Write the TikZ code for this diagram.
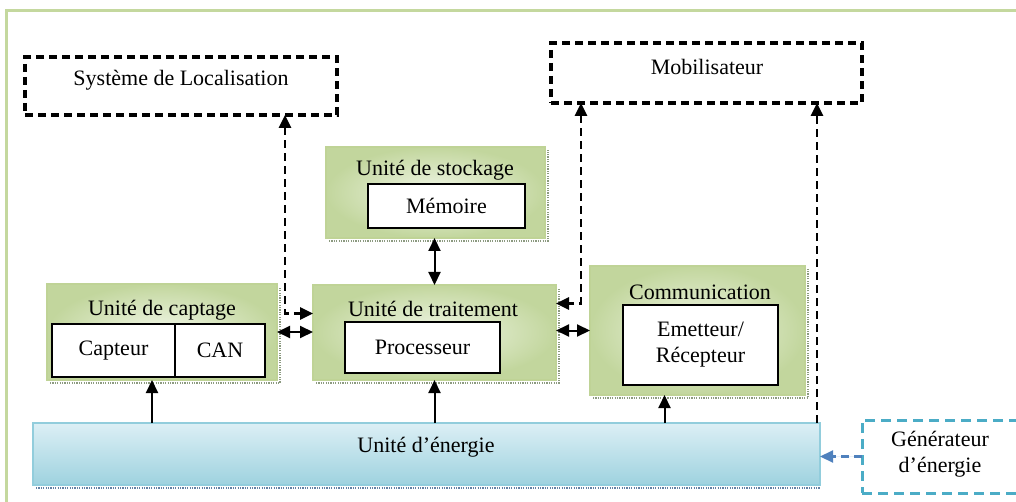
\documentclass[tikz,border=0pt]{standalone}
\usepackage{fontspec}
\setmainfont{Liberation Serif}
\usetikzlibrary{arrows.meta,calc}
\definecolor{gEdge}{HTML}{BFD396}
\definecolor{gLight}{HTML}{F0F6E6}
\definecolor{gMid}{HTML}{C2D69D}
\definecolor{frameG}{HTML}{C4D89E}
\definecolor{bTop}{HTML}{DCEFF5}
\definecolor{bBot}{HTML}{9ED2DF}
\definecolor{bEdge}{HTML}{92CDDC}
\definecolor{cyanD}{HTML}{4BACC6}
\definecolor{blueA}{HTML}{4F81BD}
\definecolor{shadC}{HTML}{8C9A80}
\begin{document}
\begin{tikzpicture}[x=1pt,y=-1pt,
  every node/.style={font=\fontsize{22}{26}\selectfont, inner sep=0pt, outer sep=0pt},
  gbox/.style={draw=gEdge, line width=1.8pt, inner color=gLight, outer color=gMid},
  ibox/.style={draw=black, line width=2.8pt, fill=white},
  dbox/.style={draw=black, line width=3.2pt, dash pattern=on 8pt off 5pt},
  ebox/.style={draw=bEdge, line width=1.8pt, top color=bTop, bottom color=bBot},
  gen/.style={draw=cyanD, line width=3pt, dash pattern=on 10pt off 6pt},
  shad/.style={draw=shadC, line width=2pt, dash pattern=on 1.2pt off 1.2pt},
  arr/.style={line width=2pt, -{Triangle[length=13pt,width=12pt]}},
  darr/.style={line width=2pt, {Triangle[length=13pt,width=12pt]}-{Triangle[length=13pt,width=12pt]}},
  dsh/.style={line width=2.8pt, dash pattern=on 8pt off 5pt, {Triangle[length=13pt,width=12pt]}-{Triangle[length=13pt,width=12pt]}},
  dsh1/.style={line width=2.8pt, dash pattern=on 8pt off 5pt, -{Triangle[length=13pt,width=12pt]}}
]
\useasboundingbox (0,0) rectangle (1016,502);
% outer frame
\draw[frameG, line width=3pt] (6,502) -- (6,11) -- (1016,11);

% dashed external boxes
\node[dbox, minimum width=312, minimum height=58] (loc) at (181,86) {};
\node (locT) at (181,80) {Système de Localisation};
\node[dbox, minimum width=311, minimum height=60] (mob) at (706.5,73) {};
\node (mobT) at (707,67) {Mobilisateur};

% storage unit
\node[gbox, minimum width=219, minimum height=91] (st) at (435.5,192.5) {};
\draw[shad] ([xshift=3pt,yshift=-3pt]st.south west) -- ([xshift=3pt,yshift=-3pt]st.south east) -- ([xshift=3pt,yshift=-3pt]st.north east);
\node (stT) at (435,170) {Unité de stockage};
\node[ibox, minimum width=157, minimum height=44] (mem) at (446.5,206) {Mémoire};

% captage unit
\node[gbox, minimum width=230, minimum height=96] (cap) at (162,332) {};
\draw[shad] ([xshift=3pt,yshift=-3pt]cap.south west) -- ([xshift=3pt,yshift=-3pt]cap.south east) -- ([xshift=3pt,yshift=-3pt]cap.north east);
\node (capT) at (162,310) {Unité de captage};
\node[ibox, minimum width=123, minimum height=53] (capt) at (113.5,350.5) {Capteur};
\node[ibox, minimum width=90, minimum height=53] (can) at (220,350.5) {CAN};

% traitement unit
\node[gbox, minimum width=243, minimum height=95] (tr) at (434.5,332.5) {};
\draw[shad] ([xshift=3pt,yshift=-3pt]tr.south west) -- ([xshift=3pt,yshift=-3pt]tr.south east) -- ([xshift=3pt,yshift=-3pt]tr.north east);
\node (trT) at (433,309) {Unité de traitement};
\node[ibox, minimum width=155, minimum height=51] (proc) at (422.5,347.5) {Processeur};

% communication unit
\node[gbox, minimum width=215, minimum height=129] (com) at (697.5,330.5) {};
\draw[shad] ([xshift=3pt,yshift=-3pt]com.south west) -- ([xshift=3pt,yshift=-3pt]com.south east) -- ([xshift=3pt,yshift=-3pt]com.north east);
\node (comT) at (700,292) {Communication};
\node[ibox, minimum width=155, minimum height=80, align=center] (er) at (700.5,345) {Emetteur/\\Récepteur};

% energy unit
\node[ebox, minimum width=787, minimum height=62] (en) at (426.5,454) {};
\draw[shad, draw=blueA!60!gray] ([xshift=3pt,yshift=-3pt]en.south west) -- ([yshift=-3pt]en.south east);
\node (enT) at (426,447) {Unité d’énergie};

% generator
\node[gen, minimum width=170, minimum height=73] (gen) at (947,456.5) {};
\node[align=center] (genT) at (940,454) {Générateur\\d’énergie};

% solid connectors
\draw[arr] ([xshift=-10pt]cap.south |- en.north) -- ([xshift=-10pt]cap.south);
\draw[arr] (tr.south |- en.north) -- (tr.south);
\draw[arr] ([xshift=-33pt]com.south |- en.north) -- ([xshift=-33pt]com.south);
\draw[darr] (tr.north |- st.south) -- (tr.north);
\draw[darr] (cap.east) -- (cap.east -| tr.west);
\draw[darr] ([yshift=2pt]tr.east) -- ([yshift=2pt]tr.east -| com.west);

% dashed connectors
\draw[dsh] ([xshift=-52pt]loc.south east) |- ([yshift=19pt]tr.west);
\draw[dsh] ([xshift=30pt]mob.south west) |- ([yshift=29pt]tr.east);
\draw[dsh1] ([xshift=-3pt]en.north east) -- ([xshift=-3pt]en.north east |- mob.south);
\draw[dsh1, draw=blueA, fill=blueA, line width=2.2pt, dash pattern=on 8pt off 5pt] (gen.west) -- (gen.west -| en.east);
\end{tikzpicture}
\end{document}
